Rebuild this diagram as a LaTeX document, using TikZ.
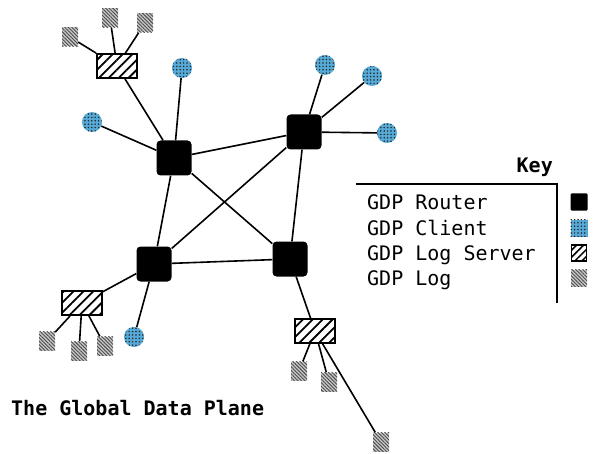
\documentclass[tikz,border=0pt]{standalone}
\usepackage{fontspec}
\setmonofont{DejaVu Sans Mono}
\usetikzlibrary{patterns.meta}
\definecolor{clientblue}{RGB}{85,170,215}
\tikzstyle{router} = [rectangle, fill=black, rounded corners=4pt, minimum size=35pt, inner sep=0pt]
\tikzstyle{client} = [circle, fill=clientblue, minimum size=20pt, inner sep=0pt, postaction={pattern={Dots[distance=3.4pt, radius=0.85pt]}, pattern color=black!85}]
\tikzstyle{server} = [rectangle, draw, line width=1.8pt, minimum width=40pt, minimum height=24pt, inner sep=0pt, pattern={Lines[angle=45, distance=7pt, line width=1.8pt]}]
\tikzstyle{log} = [rectangle, fill=gray!45, minimum width=16pt, minimum height=19pt, inner sep=0pt, postaction={pattern={Lines[angle=-45, distance=2.5pt, line width=0.9pt]}, pattern color=gray!60!black}]
\tikzstyle{line} = [draw, line width=1.6pt]
\tikzstyle{keytext} = [anchor=base west, inner sep=0pt, font=\fontsize{20}{24}\selectfont\ttfamily]

\begin{document}
\begin{tikzpicture}[x=1pt, y=-1pt]
    \useasboundingbox (0,0) rectangle (593,454);
    % routers
    \node [router] (r1) at (174,158) {};
    \node [router] (r2) at (304,132) {};
    \node [router] (r3) at (154,264) {};
    \node [router] (r4) at (290,259) {};
    % clients
    \node [client] (c1) at (182,68) {};
    \node [client] (c2) at (92,122) {};
    \node [client] (c3) at (325,65) {};
    \node [client] (c4) at (372,76) {};
    \node [client] (c5) at (387,133) {};
    \node [client] (c6) at (134,337) {};
    % log servers
    \node [server] (s1) at (117,66) {};
    \node [server] (s2) at (82,303) {};
    \node [server] (s3) at (315,331) {};
    % logs
    \node [log] (l1) at (70,37) {};
    \node [log] (l2) at (110,18) {};
    \node [log] (l3) at (145,23) {};
    \node [log] (l4) at (47,341) {};
    \node [log] (l5) at (79,351) {};
    \node [log] (l6) at (105,346) {};
    \node [log] (l7) at (299,371) {};
    \node [log] (l8) at (329,382) {};
    \node [log] (l9) at (381,442) {};
    % links
    \path [line] (r1) -- (r2);
    \path [line] (r1) -- (r3);
    \path [line] (r1) -- (r4);
    \path [line] (r2) -- (r3);
    \path [line] (r2) -- (r4);
    \path [line] (r3) -- (r4);
    \path [line] (r1) -- (c1);
    \path [line] (r1) -- (c2);
    \path [line] (r1) -- (s1);
    \path [line] (r2) -- (c3);
    \path [line] (r2) -- (c4);
    \path [line] (r2) -- (c5);
    \path [line] (r3) -- (s2);
    \path [line] (r3) -- (c6);
    \path [line] (r4) -- (s3);
    \path [line] (s1) -- (l1);
    \path [line] (s1) -- (l2);
    \path [line] (s1) -- (l3);
    \path [line] (s2) -- (l4);
    \path [line] (s2) -- (l5);
    \path [line] (s2) -- (l6);
    \path [line] (s3) -- (l7);
    \path [line] (s3) -- (l8);
    \path [line] (s3) -- (l9);
    % key
    \node [keytext, anchor=base east, font=\fontsize{20}{24}\selectfont\ttfamily\bfseries] (key) at (553,173) {Key};
    \draw [line width=1.6pt] (356,184) -- (557,184) -- (557,303);
    \node [keytext] (krouter) at (367,209) {GDP Router};
    \node [keytext] (kclient) at (367,235) {GDP Client};
    \node [keytext] (kserver) at (367,260) {GDP Log Server};
    \node [keytext] (klog) at (367,285) {GDP Log};
    \node [router, minimum size=17pt, rounded corners=1pt] (irouter) at (579,202) {};
    \node [client, rectangle, minimum size=17pt] (iclient) at (579,228) {};
    \node [server, minimum width=15pt, minimum height=16pt, pattern={Lines[angle=45, distance=5pt, line width=1.5pt]}] (iserver) at (579,253) {};
    \node [log, minimum width=16pt, minimum height=17pt] (ilog) at (579,278) {};
    % title
    \node [keytext, font=\fontsize{20}{24}\selectfont\ttfamily\bfseries] (title) at (11,415) {The Global Data Plane};
\end{tikzpicture}
\end{document}
